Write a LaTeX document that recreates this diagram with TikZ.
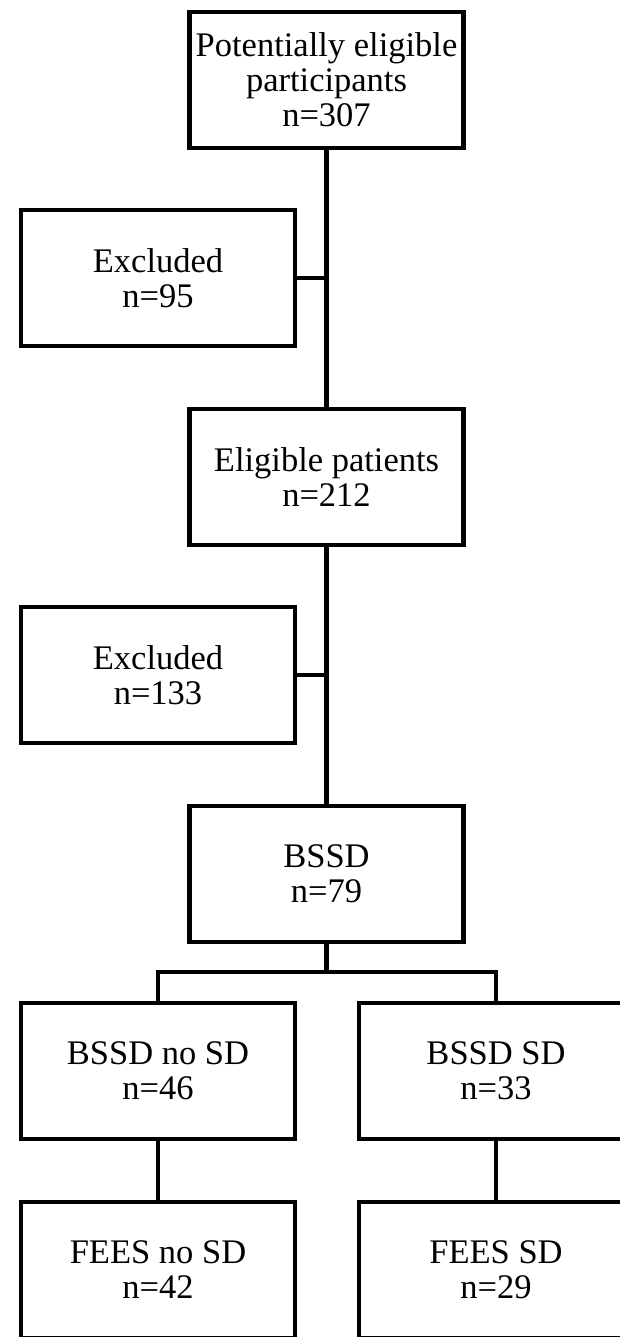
\documentclass[tikz,border=0pt]{standalone}
\usepackage{fontspec}
\setmainfont{Liberation Serif}
\usepackage{xcolor}

\begin{document}
\begin{tikzpicture}[x=1pt, y=-1pt, line width=4.6pt,
    stage/.style={rectangle, draw, minimum width=274pt, minimum height=136pt, inner sep=0pt, align=center, font=\fontsize{34.5}{35}\selectfont}]

    \clip (0,0) rectangle (620,1337);

    \node[stage] (pool) at (326.5,80) {Potentially eligible\\participants\\n=307};
    \node[stage] (exclA) at (158,278) {Excluded\\n=95};
    \node[stage] (elig) at (326.5,477) {Eligible patients\\n=212};
    \node[stage] (exclB) at (158,675) {Excluded\\n=133};
    \node[stage] (bssd) at (326.5,874) {BSSD\\n=79};
    \node[stage] (bnosd) at (158,1071) {BSSD no SD\\n=46};
    \node[stage] (bsd) at (496,1071) {BSSD SD\\n=33};
    \node[stage] (fnosd) at (158,1270) {FEES no SD\\n=42};
    \node[stage] (fsd) at (496,1270) {FEES SD\\n=29};
    \coordinate (split) at (326.5,972);

    \draw (pool) -- (elig);
    \draw (exclA.east) -- (exclA.east -| pool.south);
    \draw (elig) -- (bssd);
    \draw (exclB.east) -- (exclB.east -| elig.south);
    \draw (bssd) -- (split);
    \draw (bnosd.north) |- (split) -| (bsd.north);
    \draw (bnosd) -- (fnosd);
    \draw (bsd) -- (fsd);
\end{tikzpicture}
\end{document}
